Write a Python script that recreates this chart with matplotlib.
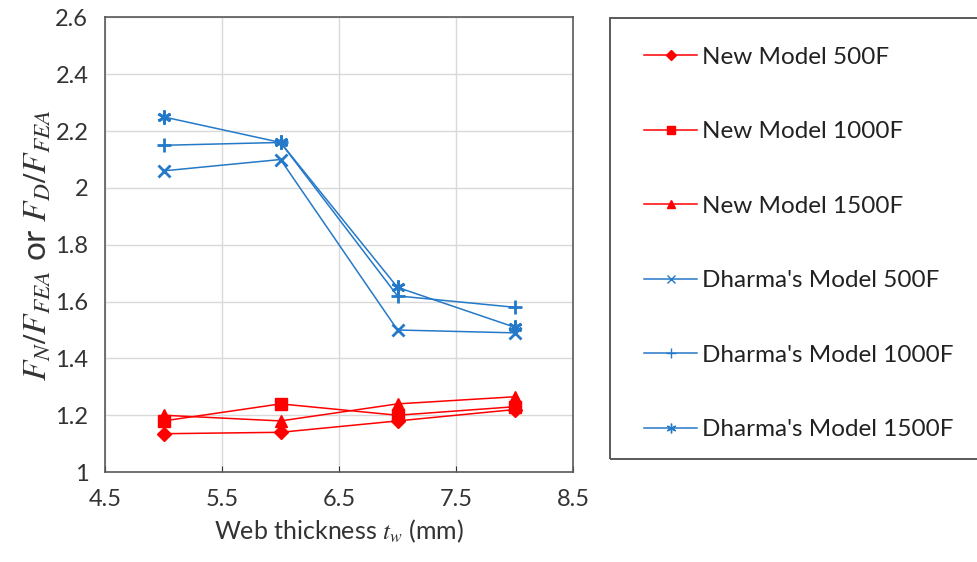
import matplotlib
matplotlib.use("Agg")
import matplotlib.pyplot as plt
from matplotlib.patches import Rectangle

plt.rcParams['font.family'] = ['Lato', 'DejaVu Sans']
plt.rcParams['mathtext.fontset'] = 'stix'

# web thickness (mm)
thickness = [5, 6, 7, 8]

new_500 = [1.135, 1.14, 1.18, 1.22]
new_1000 = [1.18, 1.24, 1.20, 1.23]
new_1500 = [1.20, 1.18, 1.24, 1.265]
dh_500 = [2.06, 2.10, 1.50, 1.49]
dh_1000 = [2.15, 2.16, 1.62, 1.58]
dh_1500 = [2.25, 2.16, 1.65, 1.51]

labels = ["New Model 500F", "New Model 1000F", "New Model 1500F",
          "Dharma's Model 500F", "Dharma's Model 1000F", "Dharma's Model 1500F"]

red = '#FF0000'
blue = '#2479C8'
frame = '#595959'

fig = plt.figure(figsize=(9.77, 5.62), dpi=100)
ax = fig.add_axes([0.1075, 0.16, 0.479, 0.809])

series = [
    (new_500, red, 'D', 7, 1.0),
    (new_1000, red, 's', 9, 1.0),
    (new_1500, red, '^', 9, 1.0),
    (dh_500, blue, 'x', 9, 2.0),
    (dh_1000, blue, '+', 10, 2.0),
    (dh_1500, blue, (6, 2, 0), 10, 2.0),
]
handles = []
for (vals, col, mk, ms, mew), lab in zip(series, labels):
    h, = ax.plot(thickness, vals, color=col, marker=mk, markersize=ms,
                 markeredgewidth=mew, linewidth=1.1, label=lab)
    handles.append(h)

ax.set_xlim(4.5, 8.5)
ax.set_ylim(1, 2.6)
ax.set_xticks([4.5, 5.5, 6.5, 7.5, 8.5])
ax.set_xticklabels(['4.5', '5.5', '6.5', '7.5', '8.5'])
ax.set_yticks([1, 1.2, 1.4, 1.6, 1.8, 2, 2.2, 2.4, 2.6])
ax.set_yticklabels(['1', '1.2', '1.4', '1.6', '1.8', '2', '2.2', '2.4', '2.6'])
ax.grid(True, color='#D9D9D9', linewidth=1)
ax.set_axisbelow(True)
for s in ax.spines.values():
    s.set_color(frame)
    s.set_linewidth(1.2)
ax.tick_params(axis='x', direction='in', length=4, color='#333333',
               labelsize=17, labelcolor='#333333', pad=12)
ax.tick_params(axis='y', length=0, labelsize=17, labelcolor='#333333', pad=12)

ax.set_xlabel('Web thickness $t_w$ (mm)', fontsize=18, color='#333333', labelpad=6)
ax.set_ylabel('$F_N/F_{FEA}$ or $F_D/F_{FEA}$', fontsize=24, color='#333333', labelpad=2)

# legend box
fig.patches.append(Rectangle((0.6245, 0.183), 0.40, 0.785, transform=fig.transFigure,
                             fill=False, edgecolor=frame, linewidth=1.4))
leg = fig.legend(handles=handles, loc='upper left', bbox_to_anchor=(0.659, 0.917),
                 frameon=False, fontsize=17.5, handlelength=2.2, handletextpad=0.2,
                 labelspacing=2.2, markerscale=0.7, borderpad=0, borderaxespad=0)
for h in leg.legend_handles:
    h.set_markeredgewidth(1.0)
for t in leg.get_texts():
    t.set_color('#222222')

fig.savefig('out.png', dpi=100)
